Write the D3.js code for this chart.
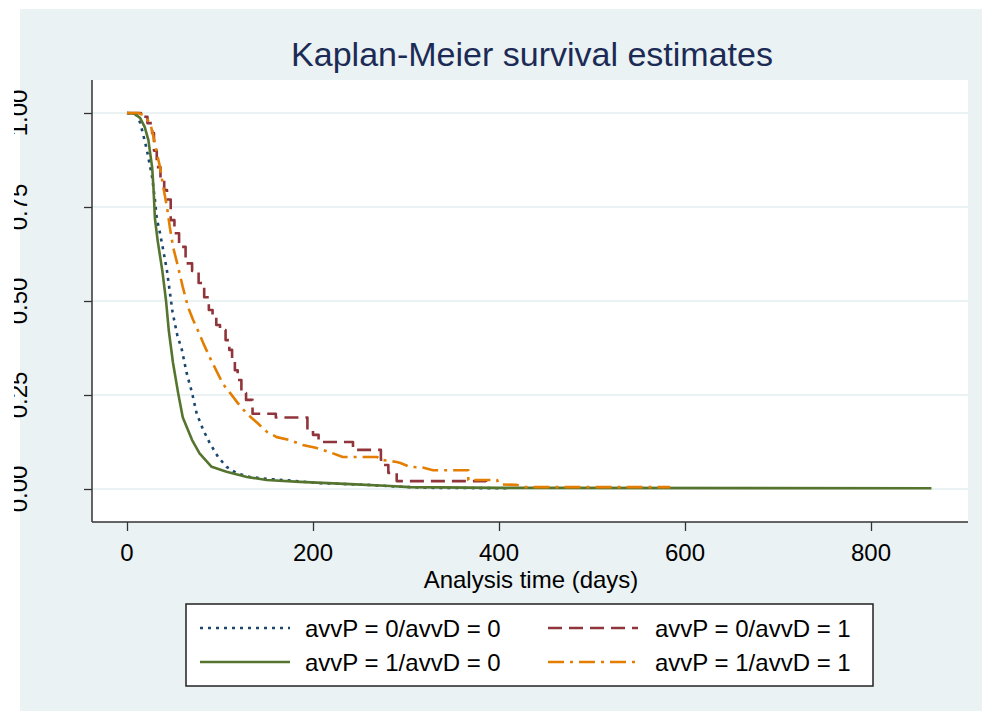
<!DOCTYPE html>
<html>
<head>
<meta charset="utf-8">
<script src="https://cdn.jsdelivr.net/npm/d3@7"></script>
<style>
html,body{margin:0;padding:0;background:#fff;}
svg{display:block;font-family:"Liberation Sans",Arial,sans-serif;}
</style>
</head>
<body>
<svg id="chart" width="982" height="711"></svg>
<script>
// ---------- data ----------
const title = "Kaplan-Meier survival estimates";
const xTitle = "Analysis time (days)";
const xTicks = [0, 200, 400, 600, 800];
const yTicks = [0, 0.25, 0.5, 0.75, 1];
const seriesNames = ["avvP = 0/avvD = 0", "avvP = 0/avvD = 1", "avvP = 1/avvD = 0", "avvP = 1/avvD = 1"];

// avvP = 0 / avvD = 0 (navy, dotted)
const t00 = [0, 10, 14, 17, 21.5, 27, 30, 32, 35.5, 39, 43, 46, 49, 54, 59, 64, 70, 75, 82, 89, 98, 107, 118, 132, 150, 168, 204, 258, 294, 330, 410];
const s00 = [1, 0.995, 0.975, 0.947, 0.90, 0.83, 0.77, 0.72, 0.68, 0.635, 0.58, 0.525, 0.47, 0.41, 0.37, 0.31, 0.255, 0.20, 0.157, 0.122, 0.085, 0.059, 0.042, 0.032, 0.027, 0.024, 0.016, 0.011, 0.006, 0.003, 0.002];

// avvP = 0 / avvD = 1 (maroon, dashed) - step function
const t01 = [0, 15, 22, 27, 29, 32, 36, 40, 43, 47, 51, 56, 63, 70, 77, 83, 88, 92, 96, 100, 106, 110, 113, 116, 119, 123, 128, 135, 160, 194, 200, 206, 243, 273, 276, 281, 290, 386];
const s01 = [1, 0.99, 0.973, 0.947, 0.90, 0.856, 0.82, 0.795, 0.77, 0.715, 0.68, 0.644, 0.60, 0.58, 0.548, 0.51, 0.476, 0.457, 0.436, 0.423, 0.396, 0.37, 0.343, 0.316, 0.29, 0.255, 0.237, 0.20, 0.19, 0.157, 0.144, 0.125, 0.104, 0.078, 0.064, 0.043, 0.021, 0];

// avvP = 1 / avvD = 0 (forest green, solid)
const t10 = [0, 8, 14, 19, 23, 27, 28.5, 30, 33, 38, 42, 45, 49.5, 55, 60, 70, 78, 91, 107, 129, 150, 186, 240, 283, 304, 400, 865];
const s10 = [1, 0.998, 0.987, 0.963, 0.928, 0.856, 0.80, 0.72, 0.66, 0.58, 0.50, 0.42, 0.335, 0.255, 0.19, 0.13, 0.095, 0.059, 0.046, 0.032, 0.024, 0.019, 0.013, 0.008, 0.005, 0.003, 0.002];

// avvP = 1 / avvD = 1 (dark orange, dash-dot)
const t11 = [0, 12, 17, 25, 30, 32, 35.5, 39, 43, 46, 49.5, 55, 60, 65.6, 71, 76, 82, 89, 97, 103, 111, 119, 129, 140, 150.5, 161, 175, 189, 204, 218, 232, 269, 272, 290, 294, 304, 318, 329, 367, 367, 398, 399, 404, 419, 426, 584];
const s11 = [1, 1, 0.995, 0.973, 0.92, 0.894, 0.856, 0.803, 0.75, 0.697, 0.644, 0.59, 0.537, 0.484, 0.45, 0.423, 0.388, 0.35, 0.31, 0.28, 0.255, 0.229, 0.20, 0.176, 0.152, 0.138, 0.13, 0.117, 0.109, 0.098, 0.085, 0.085, 0.078, 0.072, 0.069, 0.059, 0.057, 0.05, 0.05, 0.024, 0.024, 0.016, 0.012, 0.011, 0.005, 0.005];

// ---------- drawing ----------
const svg = d3.select("#chart");
const W = 982, H = 711;
const bg = "#eaf2f3";
const plot = {left: 92, right: 968, top: 80, bottom: 522};

svg.append("rect").attr("x", 20).attr("y", 9).attr("width", W - 20).attr("height", H - 9).attr("fill", bg);
svg.append("rect").attr("x", plot.left).attr("y", plot.top)
  .attr("width", plot.right - plot.left).attr("height", plot.bottom - plot.top).attr("fill", "#fff");

const x = d3.scaleLinear().domain([0, 800]).range([127, 871]);
const y = d3.scaleLinear().domain([0, 1]).range([489, 113]);

// grid
svg.append("g").selectAll("line").data(yTicks).join("line")
  .attr("x1", plot.left).attr("x2", plot.right)
  .attr("y1", d => y(d)).attr("y2", d => y(d))
  .attr("stroke", bg).attr("stroke-width", 2);

// series
const series = [
  {t: t00, s: s00, color: "#1a476f", dash: "3,5", curve: d3.curveLinear},
  {t: t01, s: s01, color: "#90353b", dash: "14,7", curve: d3.curveStepAfter},
  {t: t10, s: s10, color: "#55752f", dash: null, curve: d3.curveLinear},
  {t: t11, s: s11, color: "#e37e00", dash: "16,6,3,6", curve: d3.curveLinear}
];
series.forEach(se => {
  const pts = se.t.map((t, i) => [t, se.s[i]]);
  const line = d3.line().x(d => x(d[0])).y(d => y(d[1])).curve(se.curve);
  svg.append("path").attr("d", line(pts)).attr("fill", "none")
    .attr("stroke", se.color).attr("stroke-width", 2.6)
    .attr("stroke-dasharray", se.dash).attr("stroke-linejoin", "round");
});

// axes
const axisColor = "#333";
const yAxis = d3.axisLeft(y).tickValues(yTicks).tickSize(8).tickFormat("");
const gy = svg.append("g").attr("transform", `translate(${plot.left},0)`).call(yAxis);
gy.select(".domain").remove();
gy.selectAll(".tick line").attr("stroke", axisColor).attr("stroke-width", 1.3);
svg.append("line").attr("x1", plot.left).attr("x2", plot.left).attr("y1", plot.top).attr("y2", plot.bottom)
  .attr("stroke", axisColor).attr("stroke-width", 1.5);

const xAxis = d3.axisBottom(x).tickValues(xTicks).tickSize(9).tickFormat("");
const gx = svg.append("g").attr("transform", `translate(0,${plot.bottom})`).call(xAxis);
gx.select(".domain").remove();
gx.selectAll(".tick line").attr("stroke", axisColor).attr("stroke-width", 1.3);
svg.append("line").attr("x1", plot.left).attr("x2", plot.right).attr("y1", plot.bottom).attr("y2", plot.bottom)
  .attr("stroke", axisColor).attr("stroke-width", 1.5);

// tick labels
svg.append("g").selectAll("text").data(xTicks).join("text")
  .attr("x", d => x(d)).attr("y", 561).attr("text-anchor", "middle")
  .attr("font-size", 24).attr("fill", "#000").text(d => d);

svg.append("clipPath").attr("id", "ylabclip").append("rect")
  .attr("x", 14).attr("y", 0).attr("width", 78).attr("height", H);
svg.append("g").attr("clip-path", "url(#ylabclip)").selectAll("text").data(yTicks).join("text")
  .attr("transform", d => `translate(27,${y(d)}) rotate(-90)`)
  .attr("text-anchor", "middle").attr("font-size", 24).attr("fill", "#000")
  .text(d => d3.format(".2f")(d));

// axis title
svg.append("text").attr("x", 531).attr("y", 588).attr("text-anchor", "middle")
  .attr("font-size", 24).attr("fill", "#000").text(xTitle);

// title
svg.append("text").attr("x", 532).attr("y", 66).attr("text-anchor", "middle")
  .attr("font-size", 34).attr("fill", "#1c2b55").text(title);

// legend
const lg = svg.append("g");
lg.append("rect").attr("x", 186).attr("y", 604).attr("width", 687).attr("height", 82)
  .attr("fill", "#fff").attr("stroke", "#222").attr("stroke-width", 1.5);
const legPos = [
  {sx: 200, tx: 305, y: 628},
  {sx: 548, tx: 655, y: 628},
  {sx: 200, tx: 305, y: 662},
  {sx: 548, tx: 655, y: 662}
];
series.forEach((se, i) => {
  const p = legPos[i];
  lg.append("line").attr("x1", p.sx).attr("x2", p.sx + 90).attr("y1", p.y).attr("y2", p.y)
    .attr("stroke", se.color).attr("stroke-width", 2.6).attr("stroke-dasharray", se.dash);
  lg.append("text").attr("x", p.tx).attr("y", p.y + 9).attr("font-size", 24).attr("fill", "#000")
    .text(seriesNames[i]);
});
</script>
</body>
</html>
